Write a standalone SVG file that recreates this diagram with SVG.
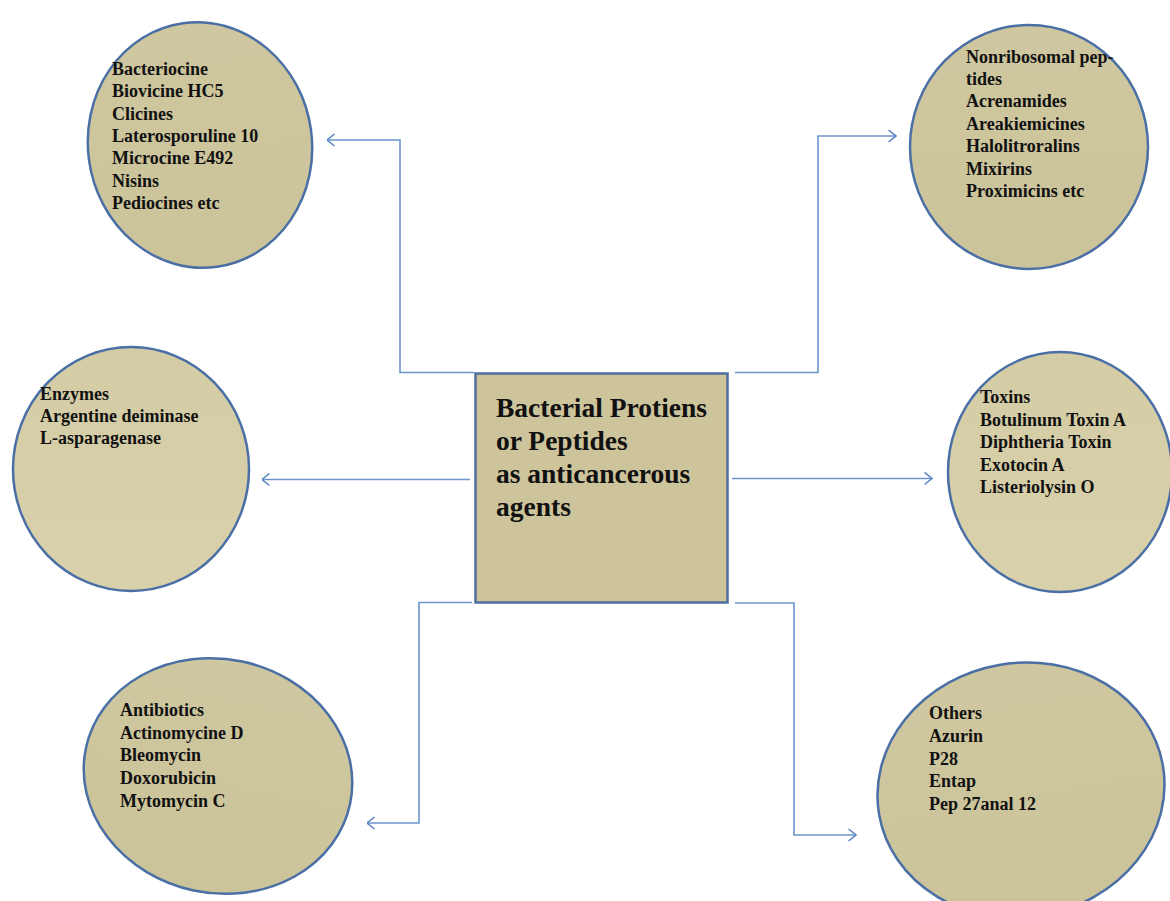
<svg xmlns="http://www.w3.org/2000/svg" width="1170" height="901" viewBox="0 0 1170 901">
<defs>
<linearGradient id="g" x1="0" y1="0" x2="0" y2="1">
<stop offset="0" stop-color="#cfc79f"/>
<stop offset="1" stop-color="#cbc399"/>
</linearGradient>
<linearGradient id="g2" x1="0" y1="0" x2="0" y2="1">
<stop offset="0" stop-color="#d4cca5"/>
<stop offset="1" stop-color="#d8d1ab"/>
</linearGradient>
<marker id="arr" viewBox="0 0 10 14" refX="9.5" refY="7" markerWidth="10" markerHeight="14" markerUnits="userSpaceOnUse" orient="auto">
<path d="M2,1 L9.5,7 L2,13" fill="none" stroke="#5b86c0" stroke-width="1.6"/>
</marker>
</defs>
<style>
.el{stroke:#4a6fa5;stroke-width:2.5;}
.t{font-family:"Liberation Serif","Times New Roman",serif;font-weight:bold;font-size:18px;fill:#111;}
.c{font-family:"Liberation Serif","Times New Roman",serif;font-weight:bold;font-size:27.5px;fill:#111;}
.ln{fill:none;stroke:#6b95cb;stroke-width:1.6;}
</style>
<rect width="1170" height="901" fill="#ffffff"/>
<g id="connectors">
<path class="ln" d="M474,372.5 H400 V140 H327" marker-end="url(#arr)"/>
<path class="ln" d="M735,372.5 H818 V136 H896" marker-end="url(#arr)"/>
<path class="ln" d="M470,479.5 H262" marker-end="url(#arr)"/>
<path class="ln" d="M732,478.5 H932" marker-end="url(#arr)"/>
<path class="ln" d="M472,602.5 H419 V823 H367" marker-end="url(#arr)"/>
<path class="ln" d="M735,603 H794 V835 H856" marker-end="url(#arr)"/>
</g>
<g id="center">
<rect x="475.5" y="373.5" width="252" height="229" fill="#cdc49c" stroke="#4f6f9f" stroke-width="2.5"/>
<text class="c" x="496" y="417">Bacterial Protiens</text>
<text class="c" x="496" y="450">or Peptides</text>
<text class="c" x="496" y="483">as anticancerous</text>
<text class="c" x="496" y="516">agents</text>
</g>
<g id="bacteriocine">
<ellipse class="el" cx="200" cy="145" rx="112" ry="123" fill="url(#g)" transform="rotate(-8 200 145)"/>
<text class="t" x="112" y="75">Bacteriocine</text>
<text class="t" x="112" y="97.3">Biovicine HC5</text>
<text class="t" x="112" y="119.6">Clicines</text>
<text class="t" x="112" y="141.9">Laterosporuline 10</text>
<text class="t" x="112" y="164.2">Microcine E492</text>
<text class="t" x="112" y="186.5">Nisins</text>
<text class="t" x="112" y="208.8">Pediocines etc</text>
</g>
<g id="nonribosomal">
<ellipse class="el" cx="1029" cy="147" rx="119" ry="122" fill="url(#g)"/>
<text class="t" x="966" y="62.7">Nonribosomal pep-</text>
<text class="t" x="966" y="85">tides</text>
<text class="t" x="966" y="107.4">Acrenamides</text>
<text class="t" x="966" y="129.8">Areakiemicines</text>
<text class="t" x="966" y="152.2">Halolitroralins</text>
<text class="t" x="966" y="174.6">Mixirins</text>
<text class="t" x="966" y="197">Proximicins etc</text>
</g>
<g id="enzymes">
<ellipse class="el" cx="131" cy="469" rx="118" ry="122" fill="url(#g2)"/>
<text class="t" x="40" y="400">Enzymes</text>
<text class="t" x="40" y="422">Argentine deiminase</text>
<text class="t" x="40" y="444">L-asparagenase</text>
</g>
<g id="toxins">
<ellipse class="el" cx="1060" cy="472" rx="112" ry="120" fill="url(#g2)"/>
<text class="t" x="980" y="403.3">Toxins</text>
<text class="t" x="980" y="425.8">Botulinum Toxin A</text>
<text class="t" x="980" y="448.3">Diphtheria Toxin</text>
<text class="t" x="980" y="470.8">Exotocin A</text>
<text class="t" x="980" y="493.3">Listeriolysin O</text>
</g>
<g id="antibiotics">
<ellipse class="el" cx="218" cy="776" rx="135" ry="117" fill="url(#g)" transform="rotate(12 218 776)"/>
<text class="t" x="120" y="716">Antibiotics</text>
<text class="t" x="120" y="738.7">Actinomycine D</text>
<text class="t" x="120" y="761.4">Bleomycin</text>
<text class="t" x="120" y="784.1">Doxorubicin</text>
<text class="t" x="120" y="806.8">Mytomycin C</text>
</g>
<g id="others">
<ellipse class="el" cx="1021" cy="790" rx="144" ry="127" fill="url(#g)" transform="rotate(-10 1021 790)"/>
<text class="t" x="929" y="719.3">Others</text>
<text class="t" x="929" y="742">Azurin</text>
<text class="t" x="929" y="764.7">P28</text>
<text class="t" x="929" y="787.4">Entap</text>
<text class="t" x="929" y="810">Pep 27anal 12</text>
</g>
</svg>
